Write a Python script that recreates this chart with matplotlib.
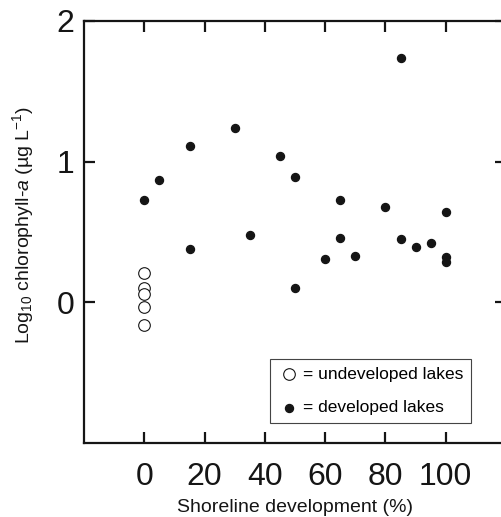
import matplotlib
matplotlib.use("Agg")
import matplotlib.pyplot as plt

plt.rcParams["font.family"] = ["Liberation Sans", "DejaVu Sans"]
plt.rcParams["mathtext.fontset"] = "custom"
plt.rcParams["mathtext.rm"] = "Liberation Sans"
plt.rcParams["mathtext.it"] = "Liberation Sans:italic"

# undeveloped lakes (0 % shoreline development)
undev_x = [0, 0, 0, 0, 0]
undev_y = [0.21, 0.10, 0.06, -0.03, -0.16]

# developed lakes
dev_x = [0, 5, 15, 15, 30, 35, 45, 50, 50, 60, 65, 65, 70, 80, 85, 85, 90, 95, 100, 100, 100]
dev_y = [0.73, 0.87, 1.11, 0.38, 1.24, 0.48, 1.04, 0.89, 0.10, 0.31, 0.73, 0.46,
         0.33, 0.68, 1.74, 0.45, 0.39, 0.42, 0.64, 0.32, 0.29]

xticks = [0, 20, 40, 60, 80, 100]
yticks = [0, 1, 2]

fig = plt.figure(figsize=(5.01, 5.17), dpi=100)
ax = fig.add_axes([0.1677, 0.1431, 0.8423, 0.8163])

ink = "#151515"
ax.scatter(undev_x, undev_y, s=70, facecolors="white", edgecolors=ink,
           linewidths=0.8, zorder=3, label="= undeveloped lakes")
ax.scatter(dev_x, dev_y, s=33, color=ink, zorder=3, label="= developed lakes")

ax.set_xlim(-20, 120)
ax.set_ylim(-1, 2)
ax.set_xticks(xticks)
ax.set_yticks(yticks)

for s in ax.spines.values():
    s.set_linewidth(1.6)
    s.set_color(ink)
ax.tick_params(direction="in", length=8, width=1.6, color=ink,
               top=True, right=True, labelsize=23, labelcolor=ink)
ax.tick_params(axis="x", pad=14)
ax.tick_params(axis="y", pad=7)

ax.set_xlabel("Shoreline development (%)", fontsize=14, color=ink, labelpad=5)
ax.set_ylabel("Log$_{10}$ chlorophyll-$\\it{a}$ (\u00b5g L$^{-1}$)",
              fontsize=14, color=ink)
ax.yaxis.set_label_coords(-0.113, 0.517)

leg = ax.legend(loc="lower left", bbox_to_anchor=(0.4408, 0.0474),
                borderaxespad=0, fontsize=12.5, frameon=True, fancybox=False,
                handlelength=1.3, handletextpad=0.15, borderpad=0.45,
                labelspacing=1.05, scatterpoints=1)
leg.get_frame().set_edgecolor(ink)
leg.get_frame().set_linewidth(0.8)

fig.savefig("out.png", dpi=100)
